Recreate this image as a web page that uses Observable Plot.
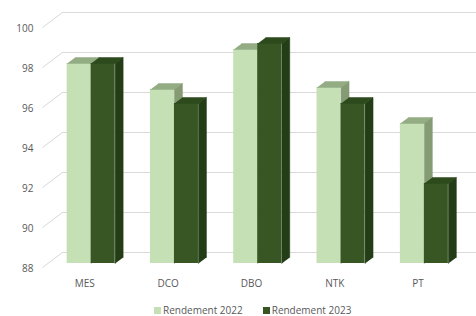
<!DOCTYPE html>
<html><head><meta charset="utf-8">
<script src="https://cdn.jsdelivr.net/npm/d3@7"></script>
<script src="https://cdn.jsdelivr.net/npm/@observablehq/plot@0.6"></script>
<style>
body{margin:0;background:#fff;font-family:"Open Sans",sans-serif;}
#wrap{position:relative;width:476px;height:316px;overflow:hidden;}
#legend{position:absolute;top:303px;left:154px;display:flex;align-items:center;font-size:10px;color:#595959;white-space:nowrap;line-height:14px;}
#legend .item{display:flex;align-items:center;margin-right:20px;}
#legend .sw{width:7px;height:7px;margin-right:2px;}
</style></head>
<body><div id="wrap"><div id="chart"></div><div id="legend"></div></div>
<script>
const categories = ["MES", "DCO", "DBO", "NTK", "PT"];
const rendement2022 = [98, 96.7, 98.7, 96.8, 95];
const rendement2023 = [98, 96, 99, 96, 92];
const yTicks = [88, 90, 92, 94, 96, 98, 100];
const seriesNames = ["Rendement 2022", "Rendement 2023"];

// styles / geometry (not data)
const colors = {
  light: {front: "#c5e0b4", top: "#93ac84", side: "#849b74"},
  dark:  {front: "#375623", top: "#2c4a1c", side: "#233d16"}
};
const W = 476, H = 296, mL = 62, mR = 0, mT = 12, mB = 44;
const xDomain = [-0.52, 4.45];
const yDomain = [88, 100];
const PXX = (W - mL - mR) / (xDomain[1] - xDomain[0]);
const PXY = (H - mT - mB) / (yDomain[1] - yDomain[0]);
const WALL = {dx: -20, dy: 15};     // pixel offset of the front edge of the 3D floor
const dF = 11 / 15, dB = 5 / 15;    // depth of front / back of the bars
const bw = 24 / PXX;                // bar width in category units
const px = (x, d) => x + WALL.dx * d / PXX;
const py = (v, d) => v - WALL.dy * d / PXY;
const base = yDomain[0];
const xLeft = xDomain[0];

function buildBars(values, offset) {
  const fronts = [], tops = [], sides = [];
  values.forEach((v, i) => {
    const xl = i + offset * bw, xr = xl + bw;
    fronts.push({x1: px(xl, dF), x2: px(xr, dF), y1: py(base, dF), y2: py(v, dF)});
    [[xl, v, dF], [xr, v, dF], [xr, v, dB], [xl, v, dB]]
      .forEach(([x, y, d]) => tops.push({k: i, x: px(x, d), y: py(y, d)}));
    [[xr, base, dF], [xr, v, dF], [xr, v, dB], [xr, base, dB]]
      .forEach(([x, y, d]) => sides.push({k: i, x: px(x, d), y: py(y, d)}));
  });
  return {fronts, tops, sides};
}
function barMarks(values, offset, c) {
  const b = buildBars(values, offset);
  return [
    Plot.rect(b.fronts, {x1: "x1", x2: "x2", y1: "y1", y2: "y2", fill: c.front}),
    Plot.line(b.tops, {x: "x", y: "y", z: "k", fill: c.top, stroke: c.top, strokeWidth: 0.5}),
    Plot.line(b.sides, {x: "x", y: "y", z: "k", fill: c.side, stroke: c.side, strokeWidth: 0.5})
  ];
}

const chart = Plot.plot({
  width: W, height: H, marginLeft: mL, marginRight: mR, marginTop: mT, marginBottom: mB,
  x: {domain: xDomain},
  y: {domain: yDomain},
  style: {fontFamily: "Open Sans, sans-serif", fontSize: "10px", color: "#595959", background: "#fff", overflow: "visible"},
  marks: [
    Plot.ruleY(yTicks, {stroke: "#d9d9d9", strokeWidth: 1}),
    Plot.link(yTicks, {x1: px(xLeft, 1), y1: d => py(d, 1), x2: xLeft, y2: d => d, stroke: "#d9d9d9", strokeWidth: 1}),
    Plot.axisY({ticks: yTicks, anchor: "left", tickSize: 0, tickPadding: 29, dy: 16, label: null}),
    Plot.axisX({ticks: d3.range(categories.length), tickFormat: i => categories[i], tickSize: 0, tickPadding: 27, dx: -21, label: null}),
    ...barMarks(rendement2022, -1, colors.light),
    ...barMarks(rendement2023, 0, colors.dark)
  ]
});
document.getElementById("chart").appendChild(chart);

const legend = document.getElementById("legend");
seriesNames.forEach((name, i) => {
  const item = document.createElement("div");
  item.className = "item";
  const sw = document.createElement("div");
  sw.className = "sw";
  sw.style.background = i === 0 ? colors.light.front : colors.dark.front;
  const t = document.createElement("span");
  t.textContent = name;
  item.appendChild(sw); item.appendChild(t);
  legend.appendChild(item);
});
</script>
</body></html>
